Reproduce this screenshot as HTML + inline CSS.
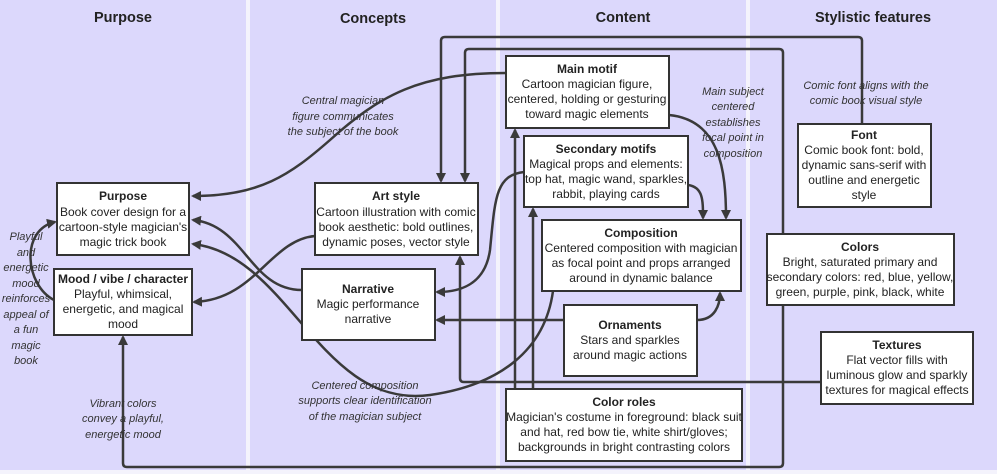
<!DOCTYPE html>
<html><head><meta charset="utf-8"><style>
html,body{margin:0;padding:0;background:#f4f3fc}
svg{display:block}
text{font-family:"Liberation Sans",sans-serif;fill:#222}
.t{font-size:12px;font-weight:bold}
.b{font-size:12px}
.h{font-size:14.5px;font-weight:bold}
.l{font-size:11px;font-style:italic;fill:#333}
.bx{fill:#fff;stroke:#333;stroke-width:2}
.e{fill:none;stroke:#3a3a3a;stroke-width:2.5}
</style></head><body>
<svg width="997" height="474" viewBox="0 0 997 474">
<defs><marker id="a" markerWidth="10" markerHeight="10" refX="8" refY="5" orient="auto" markerUnits="userSpaceOnUse"><path d="M0,0 L10,5 L0,10 z" fill="#3a3a3a"/></marker></defs>
<rect x="0" y="0" width="246" height="470" fill="#dcd8fc"/>
<rect x="250" y="0" width="246" height="470" fill="#dcd8fc"/>
<rect x="500" y="0" width="246" height="470" fill="#dcd8fc"/>
<rect x="750" y="0" width="247" height="470" fill="#dcd8fc"/>
<text class="h" x="123" y="22" text-anchor="middle">Purpose</text>
<text class="h" x="373" y="23" text-anchor="middle">Concepts</text>
<text class="h" x="623" y="22" text-anchor="middle">Content</text>
<text class="h" x="873" y="22" text-anchor="middle">Stylistic features</text>

<g class="e">
<path d="M862,124 V41 Q862,37 858,37 H445 Q441,37 441,41 V181" marker-end="url(#a)"/>
<path d="M783,234 V53 Q783,49 779,49 H469 Q465,49 465,53 V181" marker-end="url(#a)"/>
<path d="M783,305 V463 Q783,467 779,467 H127 Q123,467 123,463 V337" marker-end="url(#a)"/>
<path d="M506,73 C420,73 380,95 330,140 C290,175 260,196 193,196" marker-end="url(#a)"/>
<path d="M669,115 C720,120 726,170 726,218" marker-end="url(#a)"/>
<path d="M688,185 C703,187 703,200 703,218" marker-end="url(#a)"/>
<path d="M524,172 C495,175 495,200 490,250 C485,285 460,292 437,292" marker-end="url(#a)"/>
<path d="M315,236 C270,240 255,300 194,302" marker-end="url(#a)"/>
<path d="M302,290 C250,290 245,225 193,220" marker-end="url(#a)"/>
<path d="M553,291 C545,350 500,385 430,395 C320,410 290,255 193,244" marker-end="url(#a)"/>
<path d="M564,320 H437" marker-end="url(#a)"/>
<path d="M697,320 C715,320 720,305 720,293" marker-end="url(#a)"/>
<path d="M821,382 H464 Q460,382 460,378 V257" marker-end="url(#a)"/>
<path d="M515,389 V130" marker-end="url(#a)"/>
<path d="M533,389 V209" marker-end="url(#a)"/>
<path d="M54,300 C25,285 20,230 55,222" marker-end="url(#a)"/>
</g>

<g>
<rect class="bx" x="57" y="183" width="132" height="72"/>
<text class="t" x="123" y="200" text-anchor="middle">Purpose</text>
<text class="b" text-anchor="middle"><tspan x="123" y="216">Book cover design for a</tspan><tspan x="123" y="231">cartoon-style magician's</tspan><tspan x="123" y="246">magic trick book</tspan></text>

<rect class="bx" x="54" y="269" width="138" height="66"/>
<text class="t" x="123" y="283" text-anchor="middle">Mood / vibe / character</text>
<text class="b" text-anchor="middle"><tspan x="123" y="298">Playful, whimsical,</tspan><tspan x="123" y="313">energetic, and magical</tspan><tspan x="123" y="328">mood</tspan></text>

<rect class="bx" x="315" y="183" width="163" height="72"/>
<text class="t" x="396" y="200" text-anchor="middle">Art style</text>
<text class="b" text-anchor="middle"><tspan x="396" y="216">Cartoon illustration with comic</tspan><tspan x="396" y="231">book aesthetic: bold outlines,</tspan><tspan x="396" y="246">dynamic poses, vector style</tspan></text>

<rect class="bx" x="302" y="269" width="133" height="71"/>
<text class="t" x="368" y="293" text-anchor="middle">Narrative</text>
<text class="b" text-anchor="middle"><tspan x="368" y="308">Magic performance</tspan><tspan x="368" y="323">narrative</tspan></text>

<rect class="bx" x="506" y="56" width="163" height="72"/>
<text class="t" x="587" y="73" text-anchor="middle">Main motif</text>
<text class="b" text-anchor="middle"><tspan x="587" y="88">Cartoon magician figure,</tspan><tspan x="587" y="103">centered, holding or gesturing</tspan><tspan x="587" y="118">toward magic elements</tspan></text>

<rect class="bx" x="524" y="136" width="164" height="71"/>
<text class="t" x="606" y="153" text-anchor="middle">Secondary motifs</text>
<text class="b" text-anchor="middle"><tspan x="606" y="168">Magical props and elements:</tspan><tspan x="606" y="183">top hat, magic wand, sparkles,</tspan><tspan x="606" y="198">rabbit, playing cards</tspan></text>

<rect class="bx" x="542" y="220" width="199" height="71"/>
<text class="t" x="641" y="237" text-anchor="middle">Composition</text>
<text class="b" text-anchor="middle"><tspan x="641" y="252">Centered composition with magician</tspan><tspan x="641" y="267">as focal point and props arranged</tspan><tspan x="641" y="282">around in dynamic balance</tspan></text>

<rect class="bx" x="564" y="305" width="133" height="71"/>
<text class="t" x="630" y="329" text-anchor="middle">Ornaments</text>
<text class="b" text-anchor="middle"><tspan x="630" y="344">Stars and sparkles</tspan><tspan x="630" y="359">around magic actions</tspan></text>

<rect class="bx" x="506" y="389" width="236" height="72"/>
<text class="t" x="624" y="406" text-anchor="middle">Color roles</text>
<text class="b" text-anchor="middle"><tspan x="624" y="421">Magician's costume in foreground: black suit</tspan><tspan x="624" y="436">and hat, red bow tie, white shirt/gloves;</tspan><tspan x="624" y="451">backgrounds in bright contrasting colors</tspan></text>

<rect class="bx" x="798" y="124" width="133" height="83"/>
<text class="t" x="864" y="139" text-anchor="middle">Font</text>
<text class="b" text-anchor="middle"><tspan x="864" y="154">Comic book font: bold,</tspan><tspan x="864" y="169">dynamic sans-serif with</tspan><tspan x="864" y="184">outline and energetic</tspan><tspan x="864" y="199">style</tspan></text>

<rect class="bx" x="767" y="234" width="187" height="71"/>
<text class="t" x="860" y="251" text-anchor="middle">Colors</text>
<text class="b" text-anchor="middle"><tspan x="860" y="266">Bright, saturated primary and</tspan><tspan x="860" y="281">secondary colors: red, blue, yellow,</tspan><tspan x="860" y="296">green, purple, pink, black, white</tspan></text>

<rect class="bx" x="821" y="332" width="152" height="72"/>
<text class="t" x="897" y="349" text-anchor="middle">Textures</text>
<text class="b" text-anchor="middle"><tspan x="897" y="364">Flat vector fills with</tspan><tspan x="897" y="379">luminous glow and sparkly</tspan><tspan x="897" y="394">textures for magical effects</tspan></text>
</g>

<text class="l" text-anchor="middle"><tspan x="343" y="104">Central magician</tspan><tspan x="343" y="120">figure communicates</tspan><tspan x="343" y="135">the subject of the book</tspan></text>
<text class="l" text-anchor="middle"><tspan x="733" y="95">Main subject</tspan><tspan x="733" y="110">centered</tspan><tspan x="733" y="126">establishes</tspan><tspan x="733" y="141">focal point in</tspan><tspan x="733" y="157">composition</tspan></text>
<text class="l" text-anchor="middle"><tspan x="866" y="89">Comic font aligns with the</tspan><tspan x="866" y="104">comic book visual style</tspan></text>
<text class="l" text-anchor="middle"><tspan x="123" y="407">Vibrant colors</tspan><tspan x="123" y="422">convey a playful,</tspan><tspan x="123" y="438">energetic mood</tspan></text>
<text class="l" text-anchor="middle"><tspan x="365" y="389">Centered composition</tspan><tspan x="365" y="404">supports clear identification</tspan><tspan x="365" y="420">of the magician subject</tspan></text>
<text class="l" text-anchor="middle"><tspan x="26" y="240">Playful</tspan><tspan x="26" y="256">and</tspan><tspan x="26" y="271">energetic</tspan><tspan x="26" y="287">mood</tspan><tspan x="26" y="302">reinforces</tspan><tspan x="26" y="318">appeal of</tspan><tspan x="26" y="333">a fun</tspan><tspan x="26" y="349">magic</tspan><tspan x="26" y="364">book</tspan></text>
</svg>
</body></html>
